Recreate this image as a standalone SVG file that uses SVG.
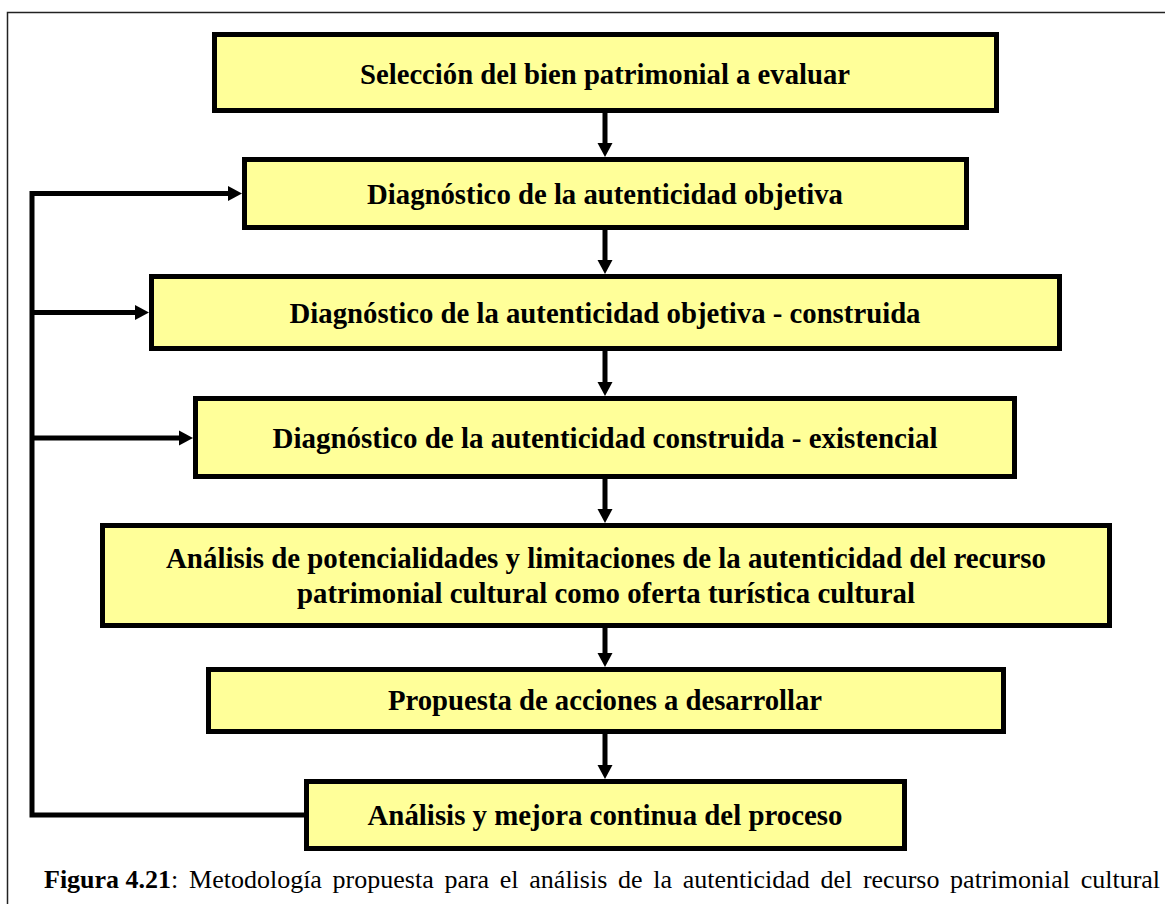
<svg xmlns="http://www.w3.org/2000/svg" width="1165" height="904" viewBox="0 0 1165 904">
<style>
.box{fill:#FFFF99;stroke:#000;stroke-width:5}
.lbl{font-family:"Liberation Serif","Times New Roman",serif;font-weight:bold;font-size:29.5px;fill:#000;text-anchor:middle}
.conn{fill:none;stroke:#000;stroke-width:5}
.cap{font-family:"Liberation Serif","Times New Roman",serif;font-size:26px;fill:#000}
</style>
<defs>
<marker id="ah" markerUnits="userSpaceOnUse" markerWidth="15" markerHeight="16" refX="2" refY="7.5" orient="auto" viewBox="0 0 15 15">
<path d="M0,0 L14,7.5 L0,15 z" fill="#000"/>
</marker>
</defs>
<rect x="7.5" y="12.5" width="1200" height="1000" fill="#fff" stroke="#222" stroke-width="1.5"/>
<g id="connectors">
<line class="conn" x1="605" y1="113" x2="605" y2="145" marker-end="url(#ah)"/>
<line class="conn" x1="605" y1="230" x2="605" y2="262" marker-end="url(#ah)"/>
<line class="conn" x1="605" y1="351" x2="605" y2="384" marker-end="url(#ah)"/>
<line class="conn" x1="605" y1="479" x2="605" y2="511" marker-end="url(#ah)"/>
<line class="conn" x1="605" y1="628" x2="605" y2="655" marker-end="url(#ah)"/>
<line class="conn" x1="605" y1="734" x2="605" y2="767" marker-end="url(#ah)"/>
<path class="conn" d="M306 815 H32 V193.5 H230" marker-end="url(#ah)"/>
<line class="conn" x1="32" y1="312.5" x2="137" y2="312.5" marker-end="url(#ah)"/>
<line class="conn" x1="32" y1="438" x2="181" y2="438" marker-end="url(#ah)"/>
</g>
<g id="n1"><rect class="box" x="214.5" y="34.5" width="782" height="76"/>
<text class="lbl" x="605" y="83.5" textLength="490" lengthAdjust="spacingAndGlyphs">Selección del bien patrimonial a evaluar</text></g>
<g id="n2"><rect class="box" x="244.5" y="159.5" width="722" height="68"/>
<text class="lbl" x="605" y="203.5" textLength="476" lengthAdjust="spacingAndGlyphs">Diagnóstico de la autenticidad objetiva</text></g>
<g id="n3"><rect class="box" x="151.5" y="276.5" width="908" height="72"/>
<text class="lbl" x="605" y="322.5" textLength="631" lengthAdjust="spacingAndGlyphs">Diagnóstico de la autenticidad objetiva - construida</text></g>
<g id="n4"><rect class="box" x="195.5" y="398.5" width="819" height="78"/>
<text class="lbl" x="605" y="447.5" textLength="665" lengthAdjust="spacingAndGlyphs">Diagnóstico de la autenticidad construida - existencial</text></g>
<g id="n5"><rect class="box" x="102.5" y="525.5" width="1007" height="100"/>
<text class="lbl" x="606" y="568" textLength="880" lengthAdjust="spacingAndGlyphs">Análisis de potencialidades y limitaciones de la autenticidad del recurso</text>
<text class="lbl" x="606" y="603" textLength="618" lengthAdjust="spacingAndGlyphs">patrimonial cultural como oferta turística cultural</text></g>
<g id="n6"><rect class="box" x="208.5" y="669.5" width="795" height="62"/>
<text class="lbl" x="605" y="710" textLength="434" lengthAdjust="spacingAndGlyphs">Propuesta de acciones a desarrollar</text></g>
<g id="n7"><rect class="box" x="306.5" y="781.5" width="598" height="67"/>
<text class="lbl" x="605" y="825" textLength="475" lengthAdjust="spacingAndGlyphs">Análisis y mejora continua del proceso</text></g>
<text class="cap" x="44" y="888"><tspan font-weight="bold">Figura 4.21</tspan><tspan>:</tspan><tspan word-spacing="4.2"> Metodología propuesta para el análisis de la autenticidad del recurso patrimonial cultural</tspan></text>
</svg>
